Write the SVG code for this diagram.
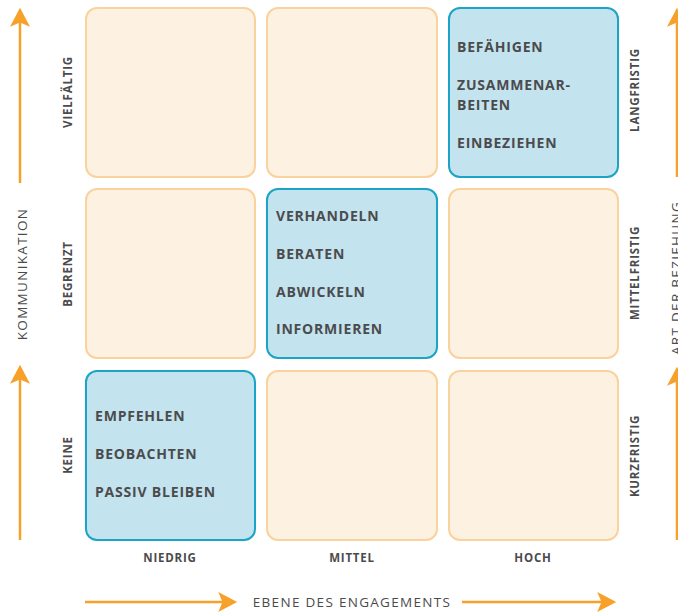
<svg xmlns="http://www.w3.org/2000/svg" width="678" height="612" viewBox="0 0 678 612">
<style>
.cell{fill:#fdf1e1;stroke:#f9d29d;stroke-width:2}
.hot{fill:#c3e3ef;stroke:#1ca4c6;stroke-width:2}
.t{font-family:"Open Sans","Liberation Sans",sans-serif;font-weight:700;font-size:14px;fill:#4b4b4d;letter-spacing:0.8px}
.lab{font-family:"Open Sans","Liberation Sans",sans-serif;font-weight:700;font-size:11.5px;fill:#4b4b4d;letter-spacing:0.8px;text-anchor:middle}
.ax{font-family:"Open Sans","Liberation Sans",sans-serif;font-weight:400;font-size:13.5px;fill:#4b4b4d;letter-spacing:1.3px;text-anchor:middle}
.arr{stroke:#f7a12a;stroke-width:2.5;fill:none;marker-end:url(#ah)}
</style>
<defs>
<marker id="ah" markerUnits="userSpaceOnUse" markerWidth="20" markerHeight="20" viewBox="0 0 18 19" refX="14" refY="9.5" orient="auto">
<path d="M0,0 L18,9.5 L0,19 L4,9.5 Z" fill="#f7a12a"/>
</marker>
</defs>
<rect width="678" height="612" fill="#ffffff"/>

<g id="axes">
<line class="arr" x1="20" y1="183" x2="20" y2="12"/>
<line class="arr" x1="20" y1="540" x2="20" y2="369"/>
<line class="arr" x1="677" y1="177" x2="677" y2="12"/>
<line class="arr" x1="677" y1="540" x2="677" y2="371"/>
<line class="arr" x1="85" y1="602" x2="233" y2="602"/>
<line class="arr" x1="462" y1="602" x2="612" y2="602"/>
</g>

<g id="c-1-1"><rect class="cell" x="86" y="8" width="169" height="169" rx="11"/></g>
<g id="c-1-2"><rect class="cell" x="267" y="8" width="170" height="169" rx="11"/></g>
<g id="c-1-3"><rect class="hot" x="449" y="8" width="169" height="169" rx="11"/>
<text class="t" x="457" y="52">BEFÄHIGEN</text>
<text class="t" x="457" y="90">ZUSAMMENAR-</text>
<text class="t" x="457" y="110">BEITEN</text>
<text class="t" x="457" y="148">EINBEZIEHEN</text>
</g>
<g id="c-2-1"><rect class="cell" x="86" y="189" width="169" height="169" rx="11"/></g>
<g id="c-2-2"><rect class="hot" x="267" y="189" width="170" height="169" rx="11"/>
<text class="t" x="276" y="221">VERHANDELN</text>
<text class="t" x="276" y="259">BERATEN</text>
<text class="t" x="276" y="297">ABWICKELN</text>
<text class="t" x="276" y="334">INFORMIEREN</text>
</g>
<g id="c-2-3"><rect class="cell" x="449" y="189" width="169" height="169" rx="11"/></g>
<g id="c-3-1"><rect class="hot" x="86" y="371" width="169" height="169" rx="11"/>
<text class="t" x="95" y="421">EMPFEHLEN</text>
<text class="t" x="95" y="459">BEOBACHTEN</text>
<text class="t" x="95" y="497">PASSIV BLEIBEN</text>
</g>
<g id="c-3-2"><rect class="cell" x="267" y="371" width="170" height="169" rx="11"/></g>
<g id="c-3-3"><rect class="cell" x="449" y="371" width="169" height="169" rx="11"/></g>

<g id="labels">
<text class="lab" transform="translate(72,92) rotate(-90)">VIELFÄLTIG</text>
<text class="lab" transform="translate(72,274) rotate(-90)">BEGRENZT</text>
<text class="lab" transform="translate(72,455) rotate(-90)">KEINE</text>
<text class="lab" transform="translate(639,90) rotate(-90)">LANGFRISTIG</text>
<text class="lab" transform="translate(639,273) rotate(-90)">MITTELFRISTIG</text>
<text class="lab" transform="translate(639,456) rotate(-90)">KURZFRISTIG</text>
<text class="lab" x="170" y="562">NIEDRIG</text>
<text class="lab" x="352" y="562">MITTEL</text>
<text class="lab" x="533" y="562">HOCH</text>
<text class="ax" transform="translate(26.5,274) rotate(-90)">KOMMUNIKATION</text>
<text class="ax" transform="translate(681,278) rotate(-90)">ART DER BEZIEHUNG</text>
<text class="ax" x="352" y="607">EBENE DES ENGAGEMENTS</text>
</g>
</svg>
